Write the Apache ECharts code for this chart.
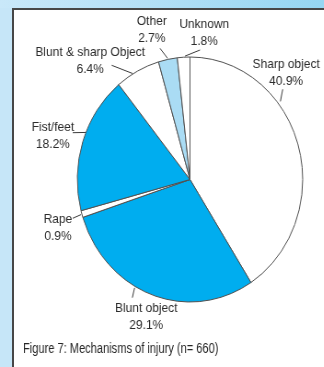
<!DOCTYPE html>
<html>
<head>
<meta charset="utf-8">
<script src="https://cdn.jsdelivr.net/npm/echarts@6/dist/echarts.min.js"></script>
<style>
  html, body { margin: 0; padding: 0; width: 324px; height: 367px; overflow: hidden; }
  body { background: #c6e6f8; position: relative; }
  #topband { position: absolute; left: 0; top: 0; width: 324px; height: 8px;
             background: linear-gradient(to right, #c9e8f9 0%, #b4e0f6 45%, #95d6f2 100%); }
  #panel { position: absolute; left: 12px; top: 8px; right: 0; bottom: 0; background: #fff;
           border-left: 2px solid #474747; border-top: 2px solid #474747; }
  #chart { position: absolute; left: 0; top: 0; width: 352px; height: 367px;
           transform: scaleX(0.92); transform-origin: 0 0; }
</style>
</head>
<body>
<div id="topband"></div>
<div id="panel"></div>
<div id="chart"></div>
<script>
// Mechanisms of injury, share of cases (%)
const categories = ['Sharp object', 'Blunt object', 'Rape', 'Fist/feet',
                    'Blunt & sharp Object', 'Other', 'Unknown'];
const shares = [40.9, 29.1, 0.9, 18.2, 6.4, 2.7, 1.8];
const caption = 'Figure 7: Mechanisms of injury (n= 660)';

// slice fills
const fills = ['#ffffff', '#00adef', '#ffffff', '#00adef', '#ffffff', '#aadcf4', '#ffffff'];
// label block centres, in chart pixels
const labelPos = [[311, 73], [159, 317], [63, 228], [57.5, 136], [98, 61], [165, 30], [222, 32.5]];
// leader lines: [where along the slice (0..1), gap off the rim, label-end dx, label-end dy]
const leaders = [[0.35, 3, -3.7, 16.3], [0.59, 1.5, -15.2, -19.3], [0.46, 1, 16, -9.7],
                 [0.57, 0, 21.5, -3.3], [0.38, 0.5, 23.4, 4.3], [0.5, 1, 8.9, 18.3],
                 [0.61, 1, -4.6, 17.5]];

const CENTER = [206.5, 179.5];
const RADIUS = 122.5;
const total = shares.reduce((a, b) => a + b, 0);

// point on (or just off) the rim, part-way through slice i
function rimPoint(i) {
  const before = shares.slice(0, i).reduce((a, b) => a + b, 0);
  const [t, gap] = leaders[i];
  const deg = (before + t * shares[i]) / total * 360;
  const rad = deg * Math.PI / 180;
  const r = RADIUS + gap;
  return [CENTER[0] + r * Math.sin(rad), CENTER[1] - r * Math.cos(rad)];
}

const chart = echarts.init(document.getElementById('chart'), null, { renderer: 'canvas' });

chart.setOption({
  animation: false,
  backgroundColor: 'transparent',
  graphic: [{
    type: 'text',
    left: 25,
    top: 342,
    scaleX: 0.86,
    style: {
      text: caption,
      font: 'normal 14px "Liberation Sans", Arial, sans-serif',
      fill: '#262626'
    }
  }],
  series: [{
    type: 'pie',
    center: CENTER,
    radius: RADIUS,
    startAngle: 90,
    clockwise: true,
    avoidLabelOverlap: false,
    itemStyle: { borderColor: '#505050', borderWidth: 1 },
    label: {
      show: true,
      position: 'outside',
      formatter: p => p.name + '\n' + p.value.toFixed(1) + '%',
      fontFamily: '"Liberation Sans", Arial, sans-serif',
      fontSize: 13,
      lineHeight: 17,
      color: '#2b2b2b',
      align: 'center'
    },
    labelLine: { show: true, length: 4, length2: 3, lineStyle: { color: '#3a3a3a', width: 1 } },
    labelLayout: p => {
      const i = p.dataIndex;
      const [lx, ly] = labelPos[i];
      return {
        x: lx,
        y: ly,
        align: 'center',
        verticalAlign: 'middle',
        labelLinePoints: [rimPoint(i), [lx + leaders[i][2], ly + leaders[i][3]]]
      };
    },
    emphasis: { disabled: true },
    data: categories.map((c, i) => ({
      name: c,
      value: shares[i],
      itemStyle: { color: fills[i] }
    }))
  }]
});
</script>
</body>
</html>
